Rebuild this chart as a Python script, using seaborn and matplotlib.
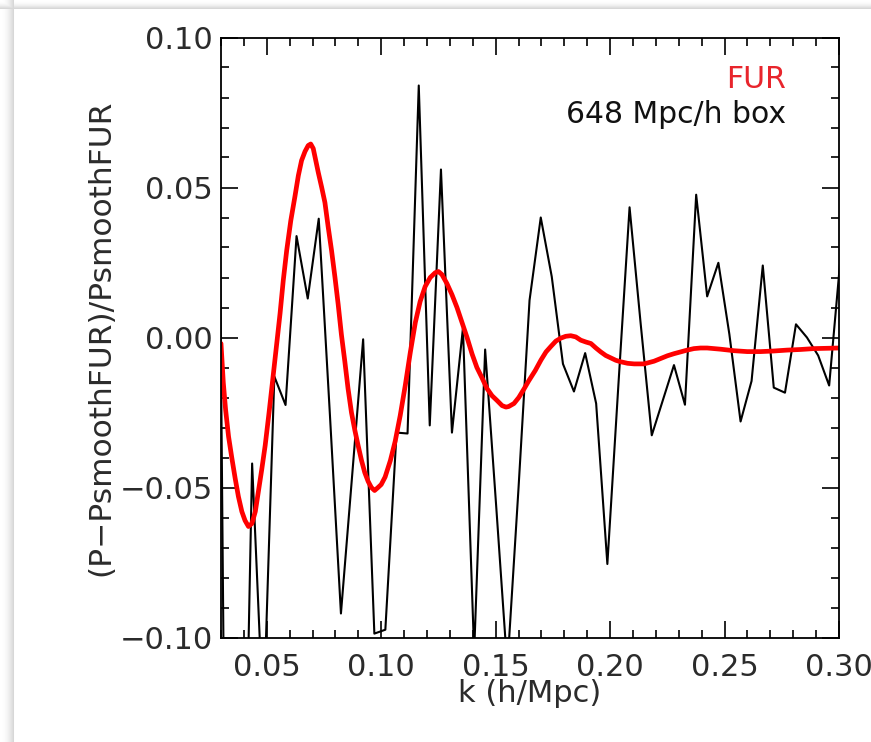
import numpy as np
import pandas as pd
import matplotlib
matplotlib.use('Agg')
import matplotlib.pyplot as plt
import seaborn as sns
from matplotlib.ticker import MultipleLocator, FuncFormatter

# 648 Mpc/h box measurement (black)
k_box = [0.0291, 0.0339, 0.0388, 0.0436, 0.0485, 0.0533, 0.0582, 0.0630, 0.0679, 0.0727,
         0.0776, 0.0824, 0.0873, 0.0921, 0.0970, 0.1018, 0.1067, 0.1115, 0.1164, 0.1212,
         0.1261, 0.1309, 0.1357, 0.1406, 0.1454, 0.1503, 0.1551, 0.1600, 0.1648, 0.1697,
         0.1745, 0.1794, 0.1842, 0.1891, 0.1939, 0.1988, 0.2036, 0.2085, 0.2133, 0.2182,
         0.2230, 0.2279, 0.2327, 0.2376, 0.2424, 0.2473, 0.2521, 0.2570, 0.2618, 0.2667,
         0.2715, 0.2764, 0.2812, 0.2860, 0.2909, 0.2957, 0.3006]
r_box = [0.070, -0.350, -0.225, -0.042, -0.128, -0.013, -0.0225, 0.0338, 0.013, 0.0396,
         -0.026, -0.092, -0.046, -0.0006, -0.0987, -0.0974, -0.0317, -0.032, 0.084, -0.0293,
         0.056, -0.0317, 0.0031, -0.105, -0.004, -0.057, -0.110, -0.050, 0.0124, 0.040,
         0.0203, -0.0088, -0.018, -0.0052, -0.022, -0.0755, -0.016, 0.0434, 0.005, -0.0326,
         -0.021, -0.0092, -0.0224, 0.0476, 0.0137, 0.0249, 0.0011, -0.028, -0.0145, 0.024,
         -0.0167, -0.0184, 0.0044, 0.000, -0.006, -0.016, 0.026]

# FUR (red)
k_fur = [0.0300, 0.0310, 0.0320, 0.0333, 0.0347, 0.0362, 0.0376, 0.0391, 0.0405, 0.0420,
         0.0435, 0.0450, 0.0464, 0.0478, 0.0493, 0.0510, 0.0529, 0.0545, 0.0558, 0.0572,
         0.0587, 0.0605, 0.0623, 0.0638, 0.0652, 0.0667, 0.0681, 0.0692, 0.0703, 0.0714,
         0.0725, 0.0740, 0.0754, 0.0768, 0.0783, 0.0798, 0.0812, 0.0826, 0.0841, 0.0855,
         0.0870, 0.0885, 0.0899, 0.0914, 0.0928, 0.0943, 0.0957, 0.0971, 0.0986, 0.1000,
         0.1017, 0.1040, 0.1061, 0.1083, 0.1105, 0.1127, 0.1149, 0.1170, 0.1192, 0.1214,
         0.1236, 0.1250, 0.1265, 0.1287, 0.1309, 0.1331, 0.1353, 0.1375, 0.1397, 0.1418,
         0.1440, 0.1462, 0.1484, 0.1506, 0.1528, 0.1545, 0.1557, 0.1580, 0.1601, 0.1625,
         0.1644, 0.1673, 0.1698, 0.1720, 0.1741, 0.1763, 0.1785, 0.1806, 0.1828, 0.1850,
         0.1872, 0.1894, 0.1916, 0.1938, 0.1959, 0.1981, 0.2003, 0.2025, 0.2047, 0.2076,
         0.2105, 0.2148, 0.2192, 0.2221, 0.2250, 0.2279, 0.2308, 0.2337, 0.2366, 0.2395,
         0.2424, 0.2483, 0.2541, 0.2599, 0.2657, 0.2715, 0.2773, 0.2831, 0.2890, 0.3000]
r_fur = [-0.002, -0.015, -0.024, -0.033, -0.040, -0.047, -0.053, -0.058, -0.061, -0.063,
         -0.062, -0.058, -0.051, -0.044, -0.036, -0.025, -0.012, -0.001, 0.008, 0.019,
         0.029, 0.039, 0.047, 0.054, 0.059, 0.062, 0.064, 0.0645, 0.063, 0.059,
         0.055, 0.050, 0.045, 0.037, 0.029, 0.020, 0.011, 0.001, -0.008, -0.017,
         -0.025, -0.031, -0.036, -0.041, -0.045, -0.048, -0.050, -0.051, -0.050, -0.049,
         -0.0465, -0.041, -0.0346, -0.026, -0.016, -0.005, 0.005, 0.012, 0.017, 0.020,
         0.0216, 0.022, 0.021, 0.018, 0.0143, 0.010, 0.005, 0.000, -0.0055, -0.010,
         -0.0134, -0.017, -0.0194, -0.021, -0.0227, -0.0232, -0.0230, -0.022, -0.020, -0.017,
         -0.0145, -0.011, -0.0075, -0.0048, -0.003, -0.0012, -0.0002, 0.0004, 0.0006, 0.0002,
         -0.0009, -0.0015, -0.002, -0.0035, -0.0048, -0.006, -0.0068, -0.0076, -0.0081, -0.0086,
         -0.0088, -0.0088, -0.0079, -0.007, -0.0061, -0.0054, -0.0048, -0.0042, -0.0037, -0.0035,
         -0.0035, -0.0039, -0.0044, -0.0047, -0.0047, -0.0045, -0.0042, -0.0040, -0.0037, -0.0035]

box = pd.DataFrame({'k': k_box, 'r': r_box})
fur = pd.DataFrame({'k': k_fur, 'r': r_fur})

sns.set_theme(style='ticks')
plt.rcParams['font.family'] = ['DejaVu Sans']

W, H = 871, 742
fig = plt.figure(figsize=(W / 100, H / 100), dpi=100)
fig.patch.set_facecolor('white')

# soft grey shadow on the left / top edge of the panel
bg = fig.add_axes([0, 0, 1, 1], zorder=-5)
shade = np.ones((H, W))
for i in range(14):
    shade[:, i] = np.minimum(shade[:, i], 1 - 0.16 * (i / 13) ** 2)
for j in range(9):
    shade[j, :] = np.minimum(shade[j, :], 1 - 0.16 * (j / 8) ** 2)
bg.imshow(shade, cmap='gray', vmin=0, vmax=1, aspect='auto', interpolation='bilinear')
bg.axis('off')

ax = fig.add_axes([221 / W, 1 - 637.5 / H, 618 / W, 600 / H])
ax.set_facecolor('white')

sns.lineplot(data=box, x='k', y='r', ax=ax, color='black', linewidth=1.5,
             sort=False, estimator=None)
sns.lineplot(data=fur, x='k', y='r', ax=ax, color='#ff0000', linewidth=3.4,
             sort=False, estimator=None)

ax.set_xlim(0.03, 0.30)
ax.set_ylim(-0.10, 0.10)
ax.xaxis.set_major_locator(MultipleLocator(0.05))
ax.xaxis.set_minor_locator(MultipleLocator(0.01))
ax.yaxis.set_major_locator(MultipleLocator(0.05))
ax.yaxis.set_minor_locator(MultipleLocator(0.01))
fmt = FuncFormatter(lambda v, p: ('%.2f' % v).replace('-', '\u2212'))
ax.xaxis.set_major_formatter(fmt)
ax.yaxis.set_major_formatter(fmt)

for s in ax.spines.values():
    s.set_visible(True)
    s.set_linewidth(1.3)
    s.set_color('black')
txt = '#2b2b2b'
ax.tick_params(which='both', direction='in', top=True, right=True, color='black',
               width=1.2, labelsize=22, labelcolor=txt)
ax.tick_params(which='major', length=12)
ax.tick_params(which='minor', length=6)
ax.tick_params(axis='x', which='major', pad=11)
ax.tick_params(axis='y', which='major', pad=6)

ax.set_xlabel('k (h/Mpc)', fontsize=22, color=txt, labelpad=-2)
ax.set_ylabel('(P\u2212PsmoothFUR)/PsmoothFUR', fontsize=22.5, color=txt, labelpad=3)

ax.text(0.915, 0.915, 'FUR', transform=ax.transAxes, ha='right', va='baseline',
        fontsize=21.5, color='#e8252c')
ax.text(0.915, 0.857, '648 Mpc/h box', transform=ax.transAxes, ha='right', va='baseline',
        fontsize=21.5, color='#111111')

fig.savefig('out.png', dpi=100, facecolor=fig.get_facecolor())
